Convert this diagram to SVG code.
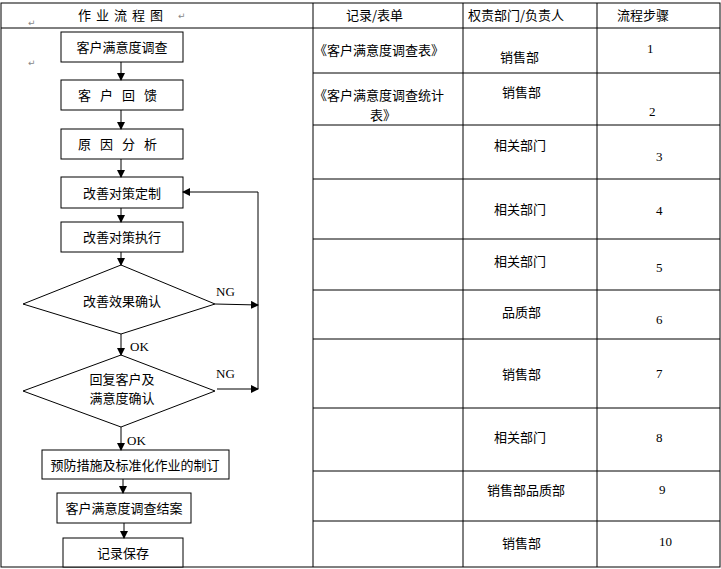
<svg xmlns="http://www.w3.org/2000/svg" width="721" height="569" viewBox="0 0 721 569">
<style>
text{font-family:"Noto Sans CJK SC","Liberation Sans",sans-serif;font-size:13px;fill:#000}
.s{font-family:"Liberation Serif","Noto Sans CJK SC",serif}
.pm{fill:#888;font-size:9px;font-family:"DejaVu Sans",sans-serif}
.b{fill:#fff;stroke:#000;stroke-width:1}
.g line,.g polyline{stroke:#000;stroke-width:1;fill:none}
.t line{stroke:#000;stroke-width:1}
</style>
<defs><marker id="a" markerWidth="8" markerHeight="8" refX="7" refY="4" orient="auto" markerUnits="userSpaceOnUse"><path d="M0,0L8,4L0,8z"/></marker></defs>
<rect width="721" height="569" fill="#fff"/>
<g class="t">
<rect x="1" y="3" width="719" height="564" fill="none" stroke="#000"/>
<line x1="313" y1="3" x2="313" y2="567"/><line x1="463" y1="3" x2="463" y2="567"/><line x1="597" y1="3" x2="597" y2="567"/>
<line x1="1" y1="28" x2="720" y2="28"/>
<line x1="313" y1="73" x2="720" y2="73"/><line x1="313" y1="125" x2="720" y2="125"/><line x1="313" y1="179" x2="720" y2="179"/>
<line x1="313" y1="239" x2="720" y2="239"/><line x1="313" y1="290" x2="720" y2="290"/><line x1="313" y1="339" x2="720" y2="339"/>
<line x1="313" y1="408" x2="720" y2="408"/><line x1="313" y1="471" x2="720" y2="471"/><line x1="313" y1="521" x2="720" y2="521"/>
</g>
<g id="table-text">
<text x="78" y="20" letter-spacing="5">作业流程图</text><text x="178" y="19" class="pm">↵</text>
<text x="28" y="26" class="pm">↵</text><text x="28" y="66" class="pm">↵</text>
<text x="346" y="20">记录/表单</text><text x="468" y="20">权责部门/负责人</text><text x="617" y="20">流程步骤</text>
<text x="314" y="55">《客户满意度调查表》</text>
<text x="314" y="100">《客户满意度调查统计</text><text x="370" y="120">表》</text>
<text x="500" y="62">销售部</text><text x="502" y="97">销售部</text>
<text x="494" y="150">相关部门</text><text x="494" y="214">相关部门</text><text x="494" y="266">相关部门</text>
<text x="502" y="317">品质部</text><text x="502" y="379">销售部</text><text x="494" y="442">相关部门</text>
<text x="487" y="495">销售部品质部</text><text x="502" y="548">销售部</text>
<g class="s"><text x="647" y="53" class="s">1</text><text x="649" y="116" class="s">2</text><text x="656" y="161" class="s">3</text>
<text x="656" y="215" class="s">4</text><text x="656" y="272" class="s">5</text><text x="656" y="324" class="s">6</text>
<text x="656" y="378" class="s">7</text><text x="656" y="442" class="s">8</text><text x="659" y="494" class="s">9</text><text x="659" y="546" class="s">10</text></g>
</g>
<g id="n1"><rect class="b" x="61" y="32" width="122" height="30"/><text x="122" y="52" text-anchor="middle">客户满意度调查</text></g>
<g id="n2"><rect class="b" x="61" y="80" width="122" height="30"/><text x="122" y="100" text-anchor="middle" letter-spacing="9">客户回馈</text></g>
<g id="n3"><rect class="b" x="61" y="129" width="122" height="30"/><text x="122" y="149" text-anchor="middle" letter-spacing="9">原因分析</text></g>
<g id="n4"><rect class="b" x="61" y="177" width="122" height="31"/><text x="122" y="198" text-anchor="middle">改善对策定制</text></g>
<g id="n5"><rect class="b" x="61" y="222" width="122" height="30"/><text x="122" y="242" text-anchor="middle">改善对策执行</text></g>
<g id="d1"><polygon class="b" points="121,265 215,304 121,334 23,304"/><text x="122" y="306" text-anchor="middle">改善效果确认</text></g>
<g id="d2"><polygon class="b" points="121,355 215,391 121,427 23,391"/><text x="122" y="384" text-anchor="middle">回复客户及</text><text x="122" y="403" text-anchor="middle">满意度确认</text></g>
<g id="n6"><rect class="b" x="42" y="450" width="187" height="29"/><text x="135" y="470" text-anchor="middle">预防措施及标准化作业的制订</text></g>
<g id="n7"><rect class="b" x="57" y="493" width="134" height="30"/><text x="124" y="513" text-anchor="middle">客户满意度调查结案</text></g>
<g id="n8"><rect class="b" x="63" y="538" width="120" height="29"/><text x="123" y="558" text-anchor="middle">记录保存</text></g>
<g class="g" id="connectors">
<line x1="121" y1="62" x2="121" y2="80" marker-end="url(#a)"/>
<line x1="121" y1="110" x2="121" y2="129" marker-end="url(#a)"/>
<line x1="121" y1="159" x2="121" y2="177" marker-end="url(#a)"/>
<line x1="121" y1="208" x2="121" y2="222" marker-end="url(#a)"/>
<line x1="121" y1="252" x2="121" y2="265" marker-end="url(#a)"/>
<line x1="121" y1="334" x2="121" y2="355" marker-end="url(#a)"/>
<line x1="121" y1="427" x2="121" y2="450" marker-end="url(#a)"/>
<line x1="123" y1="479" x2="123" y2="493" marker-end="url(#a)"/>
<line x1="124" y1="523" x2="124" y2="538" marker-end="url(#a)"/>
<line x1="215" y1="304" x2="258" y2="305" marker-end="url(#a)"/>
<line x1="217" y1="389" x2="258" y2="389" marker-end="url(#a)"/>
<polyline points="258,389 258,192 183,192" marker-end="url(#a)"/>
<text x="216" y="296" class="s" style="stroke:none">NG</text>
<text x="216" y="378" class="s" style="stroke:none">NG</text>
<text x="130" y="351" class="s" style="stroke:none">OK</text>
<text x="127" y="445" class="s" style="stroke:none">OK</text>
</g>
</svg>
